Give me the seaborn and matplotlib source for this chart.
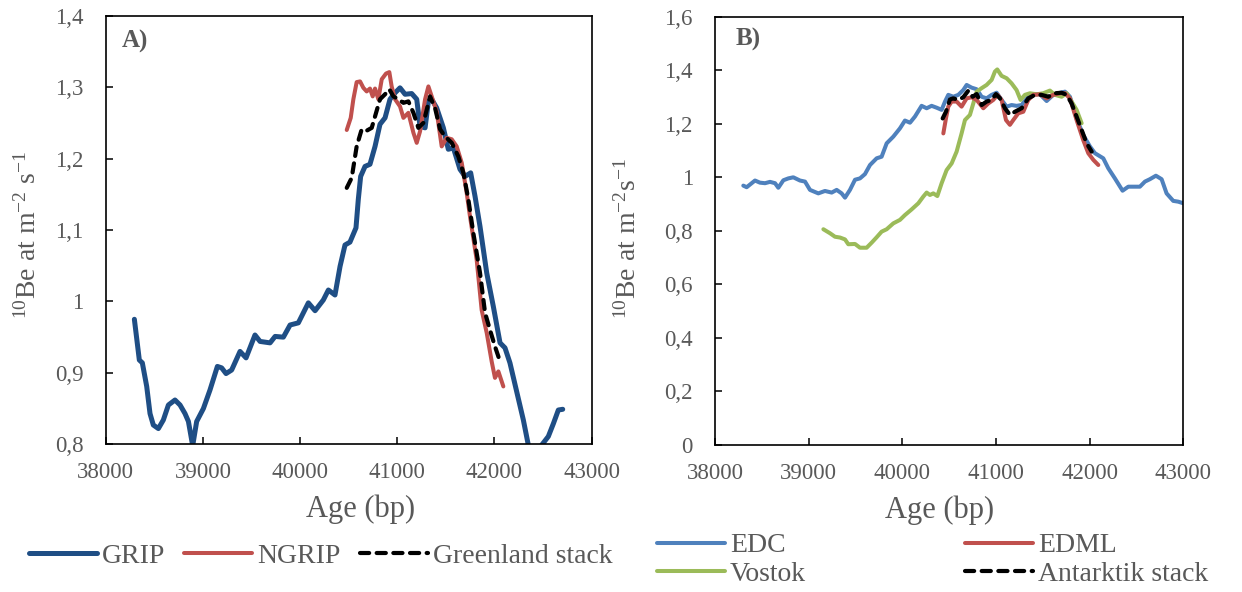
import matplotlib
matplotlib.use("Agg")
import matplotlib.pyplot as plt
import seaborn as sns

# ---------------- data ----------------
grip_age = [38295, 38346, 38377, 38422, 38456, 38490, 38542, 38593, 38645, 38713, 38765, 38816,
            38851, 38895, 38936, 39005, 39073, 39149, 39193, 39238, 39296, 39382, 39444, 39536,
            39588, 39691, 39743, 39828, 39897, 39982, 40085, 40154, 40239, 40291, 40359, 40411,
            40462, 40513, 40575, 40599, 40623, 40668, 40719, 40771, 40822, 40874, 40925, 40977,
            41028, 41080, 41148, 41200, 41234, 41286, 41320, 41354, 41405, 41474, 41525, 41577,
            41645, 41697, 41755, 41800, 41851, 41920, 41988, 42057, 42108, 42159, 42228, 42297,
            42348, 42420, 42486, 42554, 42606, 42657, 42702]
grip_be = [0.975, 0.918, 0.914, 0.881, 0.843, 0.827, 0.822, 0.834, 0.855, 0.862, 0.855, 0.843,
           0.832, 0.798, 0.832, 0.850, 0.876, 0.909, 0.907, 0.899, 0.904, 0.930, 0.921, 0.953,
           0.944, 0.942, 0.951, 0.950, 0.967, 0.970, 0.998, 0.987, 1.002, 1.016, 1.009, 1.049,
           1.079, 1.083, 1.103, 1.143, 1.175, 1.189, 1.192, 1.217, 1.248, 1.257, 1.283, 1.292,
           1.299, 1.290, 1.291, 1.283, 1.245, 1.243, 1.280, 1.283, 1.271, 1.243, 1.213, 1.215,
           1.185, 1.175, 1.180, 1.147, 1.105, 1.040, 0.993, 0.942, 0.935, 0.914, 0.874, 0.834,
           0.799, 0.770, 0.799, 0.811, 0.829, 0.848, 0.849]

ngrip_age = [40480, 40521, 40548, 40582, 40617, 40651, 40685, 40719, 40747, 40771, 40805, 40840,
             40884, 40918, 40942, 40977, 41028, 41063, 41114, 41166, 41200, 41234, 41286, 41320,
             41354, 41405, 41457, 41508, 41560, 41611, 41663, 41714, 41748, 41817, 41868, 41920,
             41971, 42005, 42040, 42091]
ngrip_be = [1.240, 1.257, 1.283, 1.307, 1.308, 1.299, 1.294, 1.298, 1.287, 1.298, 1.283, 1.311,
            1.319, 1.321, 1.301, 1.283, 1.273, 1.257, 1.264, 1.236, 1.222, 1.238, 1.283, 1.301,
            1.287, 1.266, 1.217, 1.229, 1.227, 1.217, 1.194, 1.152, 1.119, 1.058, 0.988, 0.956,
            0.916, 0.893, 0.902, 0.881]

gstack_age = [40480, 40531, 40582, 40634, 40685, 40737, 40771, 40822, 40874, 40918, 40960, 41011,
              41063, 41114, 41166, 41217, 41269, 41337, 41388, 41440, 41491, 41560, 41628, 41680,
              41731, 41782, 41851, 41903, 41954, 42005, 42057]
gstack_be = [1.159, 1.173, 1.217, 1.241, 1.239, 1.243, 1.259, 1.283, 1.290, 1.297, 1.287, 1.283,
             1.278, 1.280, 1.264, 1.243, 1.250, 1.287, 1.271, 1.241, 1.231, 1.222, 1.203, 1.180,
             1.143, 1.096, 1.040, 0.984, 0.960, 0.937, 0.916]

edc_age = [38302, 38338, 38427, 38480, 38534, 38587, 38641, 38676, 38730, 38783, 38836, 38907,
           38961, 39014, 39103, 39174, 39246, 39299, 39352, 39388, 39441, 39495, 39548, 39601,
           39655, 39726, 39779, 39833, 39904, 39975, 40028, 40082, 40135, 40206, 40260, 40313,
           40367, 40420, 40456, 40491, 40545, 40598, 40651, 40687, 40740, 40794, 40847, 40900,
           40954, 41007, 41060, 41114, 41167, 41220, 41274, 41345, 41399, 41470, 41541, 41612,
           41665, 41737, 41790, 41861, 41932, 42004, 42057, 42146, 42199, 42270, 42352, 42413,
           42484, 42537, 42591, 42644, 42708, 42769, 42822, 42893, 42947, 43000]
edc_be = [0.969, 0.963, 0.988, 0.980, 0.978, 0.983, 0.978, 0.961, 0.989, 0.996, 1.000, 0.988,
          0.984, 0.953, 0.940, 0.949, 0.943, 0.953, 0.940, 0.924, 0.953, 0.991, 0.996, 1.012,
          1.046, 1.071, 1.077, 1.127, 1.152, 1.183, 1.212, 1.204, 1.227, 1.267, 1.258, 1.267,
          1.260, 1.252, 1.283, 1.308, 1.301, 1.308, 1.326, 1.345, 1.335, 1.329, 1.301, 1.295,
          1.308, 1.316, 1.289, 1.264, 1.270, 1.267, 1.270, 1.301, 1.310, 1.310, 1.285, 1.308,
          1.314, 1.320, 1.301, 1.220, 1.158, 1.115, 1.090, 1.071, 1.034, 0.996, 0.950, 0.965,
          0.965, 0.965, 0.984, 0.993, 1.006, 0.993, 0.940, 0.912, 0.909, 0.903]

vostok_age = [39157, 39228, 39281, 39335, 39388, 39423, 39495, 39548, 39619, 39673, 39726, 39779,
              39833, 39904, 39975, 40028, 40099, 40171, 40224, 40260, 40295, 40331, 40374, 40420,
              40473, 40527, 40580, 40633, 40669, 40722, 40758, 40794, 40847, 40900, 40954, 40989,
              41014, 41060, 41114, 41167, 41220, 41263, 41309, 41363, 41434, 41505, 41576, 41630,
              41701, 41755, 41808, 41861, 41915]
vostok_be = [0.806, 0.791, 0.778, 0.775, 0.768, 0.750, 0.751, 0.737, 0.737, 0.756, 0.776, 0.797,
             0.806, 0.828, 0.841, 0.859, 0.880, 0.903, 0.928, 0.943, 0.934, 0.940, 0.930, 0.978,
             1.027, 1.052, 1.096, 1.164, 1.214, 1.233, 1.276, 1.320, 1.333, 1.345, 1.364, 1.395,
             1.403, 1.379, 1.370, 1.351, 1.326, 1.289, 1.308, 1.314, 1.310, 1.314, 1.324, 1.308,
             1.301, 1.314, 1.283, 1.252, 1.202]

edml_age = [40438, 40466, 40491, 40527, 40580, 40633, 40687, 40740, 40794, 40865, 40918, 40971,
            41018, 41060, 41107, 41149, 41185, 41238, 41292, 41345, 41399, 41470, 41541, 41612,
            41683, 41737, 41790, 41861, 41932, 41986, 42040, 42093]
edml_be = [1.164, 1.220, 1.264, 1.283, 1.283, 1.264, 1.295, 1.299, 1.289, 1.258, 1.276, 1.289,
           1.308, 1.289, 1.214, 1.196, 1.214, 1.239, 1.245, 1.289, 1.308, 1.310, 1.295, 1.308,
           1.314, 1.314, 1.295, 1.214, 1.139, 1.090, 1.065, 1.046]

astack_age = [40431, 40466, 40509, 40545, 40598, 40651, 40705, 40751, 40794, 40847, 40900, 40954,
              41000, 41043, 41096, 41149, 41203, 41274, 41345, 41416, 41487, 41559, 41630, 41701,
              41755, 41808, 41861, 41915, 41968, 42022]
astack_be = [1.220, 1.245, 1.291, 1.295, 1.289, 1.299, 1.324, 1.301, 1.311, 1.270, 1.283, 1.289,
             1.311, 1.295, 1.258, 1.233, 1.245, 1.258, 1.295, 1.308, 1.308, 1.301, 1.314, 1.316,
             1.308, 1.276, 1.227, 1.177, 1.127, 1.096]

x_ticks = [38000, 39000, 40000, 41000, 42000, 43000]
x_ticklabels = ["38000", "39000", "40000", "41000", "42000", "43000"]
ya_ticks = [0.8, 0.9, 1.0, 1.1, 1.2, 1.3, 1.4]
ya_ticklabels = ["0,8", "0,9", "1", "1,1", "1,2", "1,3", "1,4"]
yb_ticks = [0.0, 0.2, 0.4, 0.6, 0.8, 1.0, 1.2, 1.4, 1.6]
yb_ticklabels = ["0", "0,2", "0,4", "0,6", "0,8", "1", "1,2", "1,4", "1,6"]

# ---------------- style ----------------
sns.set_theme(style="white")
plt.rcParams["font.family"] = ["Liberation Serif", "DejaVu Serif"]
plt.rcParams["mathtext.fontset"] = "custom"
plt.rcParams["mathtext.rm"] = "Liberation Serif"
plt.rcParams["mathtext.it"] = "Liberation Serif:italic"
plt.rcParams["mathtext.bf"] = "Liberation Serif:bold"

GREY = "#595959"
C_GRIP = "#1F4E85"
C_RED = "#C0504D"
C_EDC = "#4F81BD"
C_VOS = "#9BBB59"

fig = plt.figure(figsize=(12.42, 5.92), dpi=100)
axA = fig.add_axes([0.0851, 0.2495, 0.3913, 0.7240])
axB = fig.add_axes([0.5757, 0.2483, 0.3770, 0.7235])

DASH = (0, (2.2, 1.8))


def draw(ax, x, y, color, lw, label, dashed=False):
    kw = dict(x=x, y=y, ax=ax, color=color, linewidth=lw, sort=False, estimator=None,
              legend=False, label=label)
    if dashed:
        kw["linestyle"] = DASH
    sns.lineplot(**kw)
    ln = ax.lines[-1]
    ln.set_linewidth(lw)
    ln.set_solid_capstyle("round")
    ln.set_dash_capstyle("round")
    ln.set_solid_joinstyle("round")
    return ln


hA = [draw(axA, grip_age, grip_be, C_GRIP, 3.6, "GRIP"),
      draw(axA, ngrip_age, ngrip_be, C_RED, 2.9, "NGRIP"),
      draw(axA, gstack_age, gstack_be, "black", 3.0, "Greenland stack", dashed=True)]

h_edc = draw(axB, edc_age, edc_be, C_EDC, 2.9, "EDC")
h_vos = draw(axB, vostok_age, vostok_be, C_VOS, 2.9, "Vostok")
h_edml = draw(axB, edml_age, edml_be, C_RED, 2.9, "EDML")
h_ast = draw(axB, astack_age, astack_be, "black", 3.0, "Antarktik stack", dashed=True)

for ax, yt, ytl, ylim in [(axA, ya_ticks, ya_ticklabels, (0.8, 1.4)),
                          (axB, yb_ticks, yb_ticklabels, (0.0, 1.6))]:
    ax.set_xlim(38000, 43000)
    ax.set_ylim(*ylim)
    ax.set_xticks(x_ticks)
    ax.set_xticklabels(x_ticklabels)
    ax.set_yticks(yt)
    ax.set_yticklabels(ytl)
    ax.tick_params(axis="both", direction="in", length=5, width=1.1, color="black",
                   labelsize=16.5, labelcolor=GREY, bottom=True, left=True,
                   top=False, right=False)
    ax.tick_params(axis="x", pad=13)
    ax.tick_params(axis="y", pad=16)
    for s in ax.spines.values():
        s.set_visible(True)
        s.set_color("black")
        s.set_linewidth(1.2)
    ax.grid(False)
    ax.set_facecolor("white")

axA.set_xlabel("Age (bp)", fontsize=22, color=GREY)
axB.set_xlabel("Age (bp)", fontsize=22, color=GREY)
axA.xaxis.set_label_coords(0.525, -0.118)
axB.xaxis.set_label_coords(0.48, -0.118)

axA.set_ylabel(r"$^{10}$Be at m$^{-2}$ s$^{-1}$", fontsize=20, color=GREY)
axB.set_ylabel(r"$^{10}$Be at m$^{-2}$s$^{-1}$", fontsize=20, color=GREY)
axA.yaxis.set_label_coords(-0.131, 0.487)
axB.yaxis.set_label_coords(-0.156, 0.482)

axA.text(0.034, 0.967, "A)", transform=axA.transAxes, fontsize=18, fontweight="bold",
         color=GREY, va="top", ha="left")
axB.text(0.043, 0.974, "B)", transform=axB.transAxes, fontsize=18, fontweight="bold",
         color=GREY, va="top", ha="left")

leg_kw = dict(frameon=False, fontsize=20, labelcolor=GREY, handlelength=2.45,
              handletextpad=0.18, borderpad=0, borderaxespad=0)

fig.legend(handles=hA, labels=["GRIP", "NGRIP", "Greenland stack"], ncol=3,
           columnspacing=0.68, loc="center left",
           bbox_to_anchor=(29 / 1242, 1 - 556 / 592), **leg_kw)
fig.legend(handles=[h_edc, h_vos], labels=["EDC", "Vostok"], ncol=1, labelspacing=0.12,
           loc="center left", bbox_to_anchor=(657 / 1242, 1 - 560 / 592), **leg_kw)
fig.legend(handles=[h_edml, h_ast], labels=["EDML", "Antarktik stack"], ncol=1,
           labelspacing=0.12, loc="center left",
           bbox_to_anchor=(965 / 1242, 1 - 560 / 592), **leg_kw)

fig.savefig("out.png", dpi=100, facecolor="white")
